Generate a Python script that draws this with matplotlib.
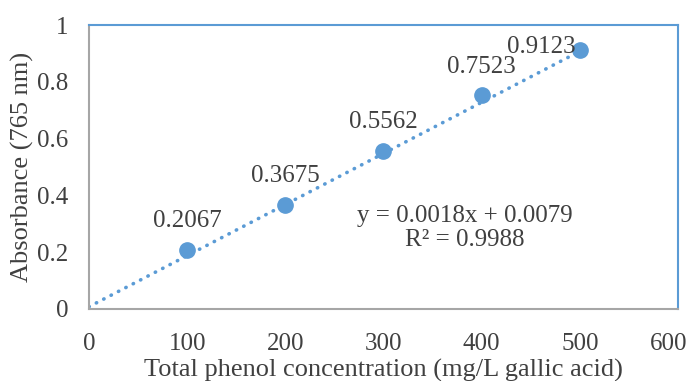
import numpy as np
import matplotlib.pyplot as plt
import matplotlib.transforms as mtransforms

plt.rcParams['font.family'] = ['Liberation Serif', 'DejaVu Serif']

# calibration data (gallic acid standard)
conc = [100, 200, 300, 400, 500]
absorb = [0.2067, 0.3675, 0.5562, 0.7523, 0.9123]
labels = ['0.2067', '0.3675', '0.5562', '0.7523', '0.9123']
slope = 0.0018
intercept = 0.0079
trend_x = [0, 500]

blue = '#5B9BD5'
txt = '#404040'
fs = 18

fig = plt.figure(figsize=(6.95, 3.81), dpi=100)
ax = fig.add_axes([0.128, 0.189, 0.8475, 0.745])

tx = np.array(trend_x)
ax.plot(tx, slope * tx + intercept, linestyle=(0, (0.1, 2.2)), dash_capstyle='round',
        color=blue, linewidth=2.6, zorder=2)
ax.plot(conc, absorb, 'o', color=blue, markersize=11, zorder=3, clip_on=False)

for i, (x, y, s) in enumerate(zip(conc, absorb, labels)):
    if i == len(conc) - 1:
        ax.annotate(s, (x, y), xytext=(-28, -2), textcoords='offset points',
                    ha='center', va='baseline', fontsize=fs, color=txt)
    else:
        ax.annotate(s, (x, y), xytext=(0, 16.5), textcoords='offset points',
                    ha='center', va='baseline', fontsize=fs, color=txt)

ax.text(383, 0.285, 'y = 0.0018x + 0.0079\nR² = 0.9988', ha='center', va='center',
        fontsize=fs, color=txt, linespacing=1.15)

ax.set_xlim(0, 600)
ax.set_ylim(0, 1)
ax.set_xticks([0, 100, 200, 300, 400, 500, 600])
ax.set_yticks([0, 0.2, 0.4, 0.6, 0.8, 1])
ax.set_yticklabels(['0', '0.2', '0.4', '0.6', '0.8', '1'])
ax.tick_params(length=0, labelsize=fs, labelcolor=txt)
ax.tick_params(axis='x', pad=17)
ax.tick_params(axis='y', pad=15)

# last x label pulled in so it fits in the figure (as Excel does)
last = ax.get_xticklabels()[-1]
last.set_transform(last.get_transform() + mtransforms.ScaledTranslation(-9 / 100, 0, fig.dpi_scale_trans))

for side in ['top', 'right']:
    ax.spines[side].set_color(blue)
    ax.spines[side].set_linewidth(1.5)
for side in ['left', 'bottom']:
    ax.spines[side].set_color('#A6A6A6')
    ax.spines[side].set_linewidth(1.5)

ax.set_xlabel('Total phenol concentration (mg/L gallic acid)', fontsize=19, color=txt, labelpad=3)
ax.set_ylabel('Absorbance (765 nm)', fontsize=19, color=txt, labelpad=2)

fig.savefig('out.png', dpi=100)
